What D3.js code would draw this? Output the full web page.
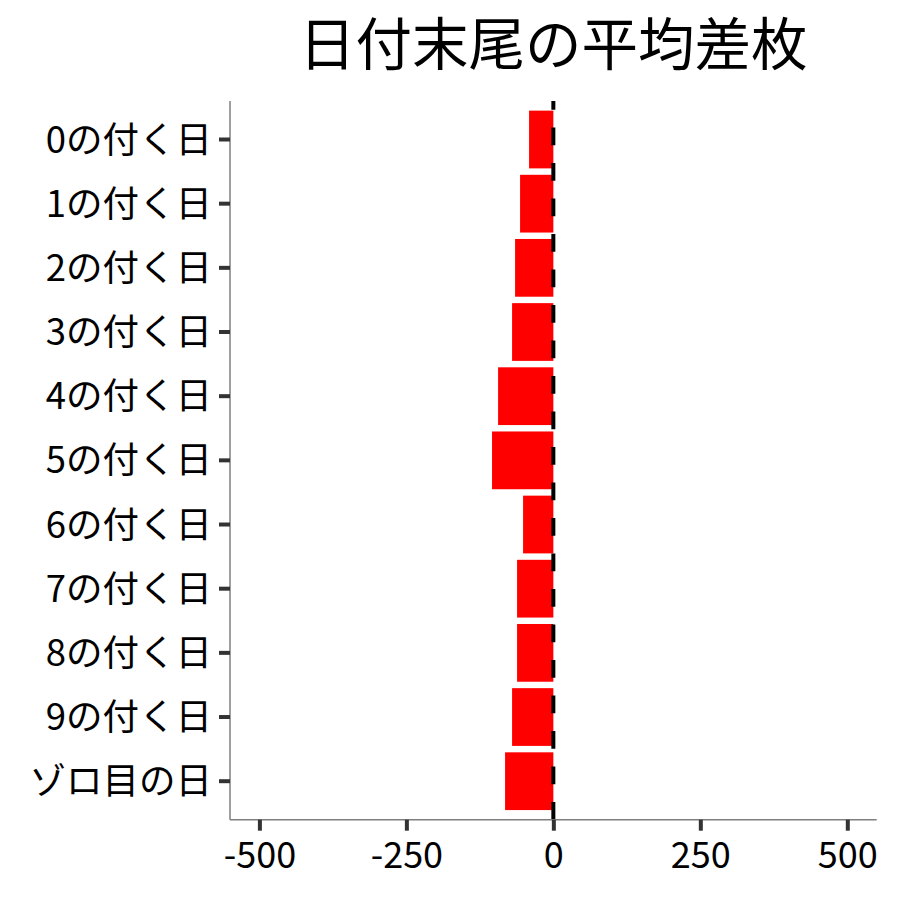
<!DOCTYPE html>
<html><head><meta charset="utf-8">
<script src="https://cdn.jsdelivr.net/npm/d3@7"></script>
<style>body{margin:0;background:#fff}svg{display:block}</style>
</head><body>
<script>
const title = "日付末尾の平均差枚";
const categories = ["0の付く日","1の付く日","2の付く日","3の付く日","4の付く日","5の付く日","6の付く日","7の付く日","8の付く日","9の付く日","ゾロ目の日"];
const values = [-41.3,-56.6,-65.1,-70.2,-94.0,-104.3,-51.5,-61.7,-61.7,-70.2,-82.1];
const xTicks = [-500,-250,0,250,500];
const xLimits = [-500,500];

const W = 900, H = 900;
const font = "'Noto Sans CJK JP','Noto Sans',sans-serif";
const panel = {left:230, right:876.7, top:101, bottom:819.7};

const svg = d3.select("body").append("svg").attr("width",W).attr("height",H);

const pad = (xLimits[1]-xLimits[0])*0.05;
const x = d3.scaleLinear().domain([xLimits[0]-pad, xLimits[1]+pad]).range([panel.left, panel.right]);
const y = d3.scaleBand().domain(categories).range([panel.top, panel.bottom]).paddingInner(0.1).paddingOuter(0.15);

// bars
svg.append("g").selectAll("rect").data(categories.map((c,i)=>({c,v:values[i]}))).join("rect")
  .attr("x", d=>x(Math.min(0,d.v)))
  .attr("width", d=>Math.abs(x(d.v)-x(0)))
  .attr("y", d=>y(d.c))
  .attr("height", y.bandwidth())
  .attr("fill","#FF0000");

// dashed zero line (drawn bottom to top)
svg.append("line")
  .attr("x1",x(0)).attr("x2",x(0))
  .attr("y1",panel.bottom).attr("y2",panel.top)
  .attr("stroke","#000").attr("stroke-width",4)
  .attr("stroke-dasharray","17.75 17.75");

// x axis
const xAxis = svg.append("g").attr("transform",`translate(0,${panel.bottom})`)
  .call(d3.axisBottom(x).tickValues(xTicks).tickSize(11).tickPadding(0).tickFormat(d=>String(d)));
xAxis.select(".domain").attr("d",`M${panel.left},0H${panel.right}`).attr("stroke","#7f7f7f").attr("stroke-width",1.5);
xAxis.selectAll(".tick line").attr("stroke","#333").attr("stroke-width",4);
xAxis.selectAll(".tick text").attr("y",48).attr("dy",null).attr("fill","#000")
  .style("font-family",font).style("font-size","36px");

// y axis
const yAxis = svg.append("g").attr("transform",`translate(${panel.left},0)`)
  .call(d3.axisLeft(y).tickSize(11).tickPadding(7));
yAxis.select(".domain").attr("d",`M0,${panel.top}V${panel.bottom}`).attr("stroke","#7f7f7f").attr("stroke-width",1.5);
yAxis.selectAll(".tick line").attr("stroke","#333").attr("stroke-width",4);
yAxis.selectAll(".tick text").attr("dy","0.36em").attr("fill","#000")
  .style("font-family",font).style("font-size","36.5px");

// title
svg.append("text").attr("x",(panel.left+panel.right)/2).attr("y",65)
  .attr("text-anchor","middle").style("font-family",font).style("font-size","56.5px")
  .attr("fill","#000").text(title);
</script>
</body></html>
